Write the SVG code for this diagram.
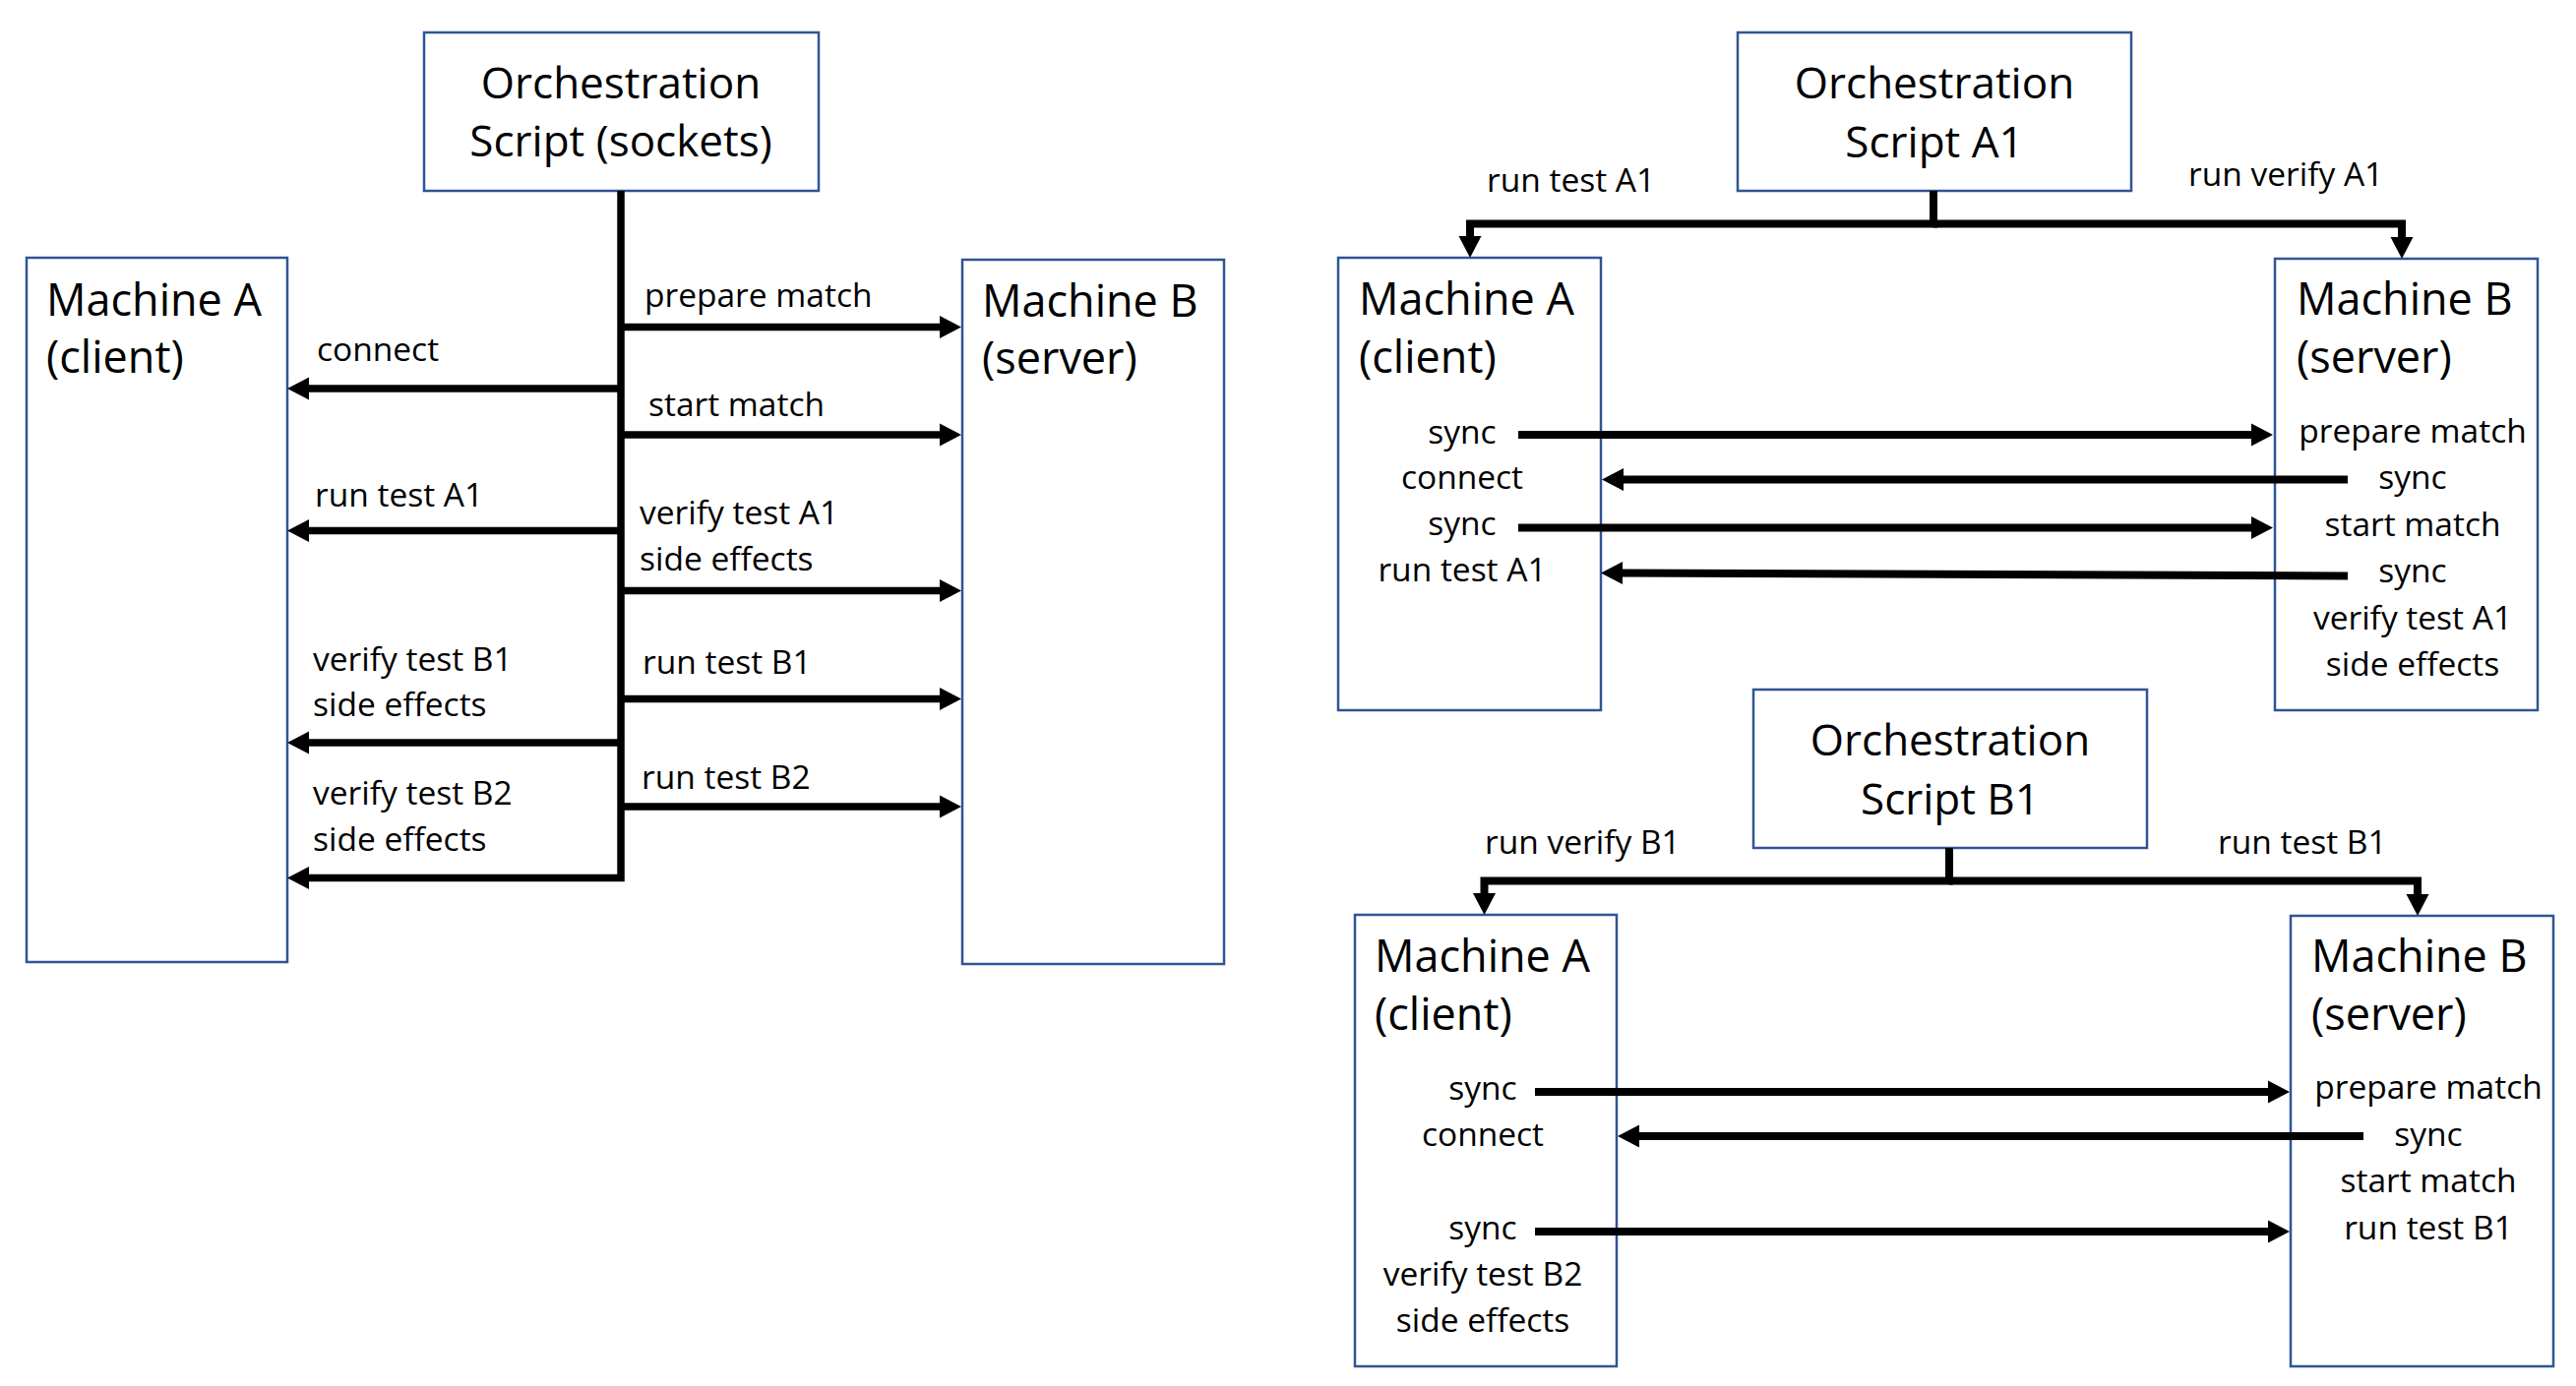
<svg xmlns="http://www.w3.org/2000/svg" width="2618" height="1409" viewBox="0 0 2618 1409">
  <style>
    .box { fill: #ffffff; stroke: #2F5496; stroke-width: 2.5; }
    .big { font-family: "Open Sans", "Noto Sans", "DejaVu Sans", sans-serif; font-size: 45px; fill: #000; }
    .orch { font-family: "Open Sans", "Noto Sans", "DejaVu Sans", sans-serif; font-size: 44px; fill: #000; text-anchor: middle; }
    .lbl { font-family: "Open Sans", "Noto Sans", "DejaVu Sans", sans-serif; font-size: 33.5px; fill: #000; }
    .mid { text-anchor: middle; }
    .wire { fill: none; stroke: #000; stroke-width: 7.5; stroke-linejoin: miter; stroke-linecap: butt; }
    .wire2 { fill: none; stroke: #000; stroke-width: 8; stroke-linejoin: miter; stroke-linecap: butt; }
  </style>
  <defs>
    <marker id="ah" markerUnits="userSpaceOnUse" markerWidth="24" markerHeight="24" refX="2" refY="11.5" orient="auto" overflow="visible">
      <path d="M0,0 L22,11.5 L0,23 Z" fill="#000"/>
    </marker>
  </defs>
  <rect x="0" y="0" width="2618" height="1409" fill="#ffffff"/>

  <!-- ===== Left diagram (sockets) ===== -->
  <g id="orch-sockets">
    <rect class="box" x="431" y="33" width="401" height="161"/>
    <text class="orch" x="631" y="100">Orchestration</text>
    <text class="orch" x="631" y="159">Script (sockets)</text>
  </g>
  <g id="machineA-sockets">
    <rect class="box" x="27" y="262" width="265" height="716"/>
    <text class="big" x="47" y="321">Machine A</text>
    <text class="big" x="47" y="379">(client)</text>
  </g>
  <g id="machineB-sockets">
    <rect class="box" x="978" y="264" width="266" height="716"/>
    <text class="big" x="998" y="322">Machine B</text>
    <text class="big" x="998" y="380">(server)</text>
  </g>

  <g id="connectors-sockets">
    <path class="wire" d="M631,194 V892.5 H312" marker-end="url(#ah)"/>
    <path class="wire" d="M631,332.5 H957" marker-end="url(#ah)"/>
    <path class="wire" d="M631,395 H312" marker-end="url(#ah)"/>
    <path class="wire" d="M631,442 H957" marker-end="url(#ah)"/>
    <path class="wire" d="M631,539.5 H312" marker-end="url(#ah)"/>
    <path class="wire" d="M631,600.5 H957" marker-end="url(#ah)"/>
    <path class="wire" d="M631,710.5 H957" marker-end="url(#ah)"/>
    <path class="wire" d="M631,755 H312" marker-end="url(#ah)"/>
    <path class="wire" d="M631,820 H957" marker-end="url(#ah)"/>
    <text class="lbl" x="655" y="312">prepare match</text>
    <text class="lbl" x="322" y="367">connect</text>
    <text class="lbl" x="659" y="423">start match</text>
    <text class="lbl" x="320" y="515">run test A1</text>
    <text class="lbl" x="650" y="533">verify test A1</text>
    <text class="lbl" x="650" y="580">side effects</text>
    <text class="lbl" x="318" y="682">verify test B1</text>
    <text class="lbl" x="318" y="728">side effects</text>
    <text class="lbl" x="653" y="685">run test B1</text>
    <text class="lbl" x="318" y="818">verify test B2</text>
    <text class="lbl" x="318" y="865">side effects</text>
    <text class="lbl" x="652" y="802">run test B2</text>
  </g>

  <!-- ===== Top-right diagram (Script A1) ===== -->
  <g id="orch-A1">
    <rect class="box" x="1766" y="33" width="400" height="161"/>
    <text class="orch" x="1966" y="100">Orchestration</text>
    <text class="orch" x="1966" y="160">Script A1</text>
  </g>
  <g id="machineA-A1">
    <rect class="box" x="1360" y="262" width="267" height="460"/>
    <text class="big" x="1381" y="320">Machine A</text>
    <text class="big" x="1381" y="379">(client)</text>
    <text class="lbl mid" x="1486" y="451">sync</text>
    <text class="lbl mid" x="1486" y="497">connect</text>
    <text class="lbl mid" x="1486" y="544">sync</text>
    <text class="lbl mid" x="1486" y="591">run test A1</text>
  </g>
  <g id="machineB-A1">
    <rect class="box" x="2312" y="263" width="267" height="459"/>
    <text class="big" x="2334" y="320">Machine B</text>
    <text class="big" x="2334" y="379">(server)</text>
    <text class="lbl mid" x="2452" y="450">prepare match</text>
    <text class="lbl mid" x="2452" y="497">sync</text>
    <text class="lbl mid" x="2452" y="545">start match</text>
    <text class="lbl mid" x="2452" y="592">sync</text>
    <text class="lbl mid" x="2452" y="640">verify test A1</text>
    <text class="lbl mid" x="2452" y="687">side effects</text>
  </g>
  <g id="connectors-A1">
    <path class="wire2" d="M1965,194 V227.5 H1494 V242" marker-end="url(#ah)"/>
    <path class="wire2" d="M1965,227.5 H2441 V243" marker-end="url(#ah)"/>
    <path class="wire2" d="M1543,442 H2290" marker-end="url(#ah)"/>
    <path class="wire2" d="M2386,487.5 H1648" marker-end="url(#ah)"/>
    <path class="wire2" d="M1543,536.5 H2290" marker-end="url(#ah)"/>
    <path class="wire2" d="M2386,585.5 L1647,582.5" marker-end="url(#ah)"/>
    <text class="lbl" x="1511" y="195">run test A1</text>
    <text class="lbl" x="2224" y="189">run verify A1</text>
  </g>

  <!-- ===== Bottom-right diagram (Script B1) ===== -->
  <g id="orch-B1">
    <rect class="box" x="1782" y="701" width="400" height="161"/>
    <text class="orch" x="1982" y="768">Orchestration</text>
    <text class="orch" x="1982" y="828">Script B1</text>
  </g>
  <g id="machineA-B1">
    <rect class="box" x="1377" y="930" width="266" height="459"/>
    <text class="big" x="1397" y="988">Machine A</text>
    <text class="big" x="1397" y="1047">(client)</text>
    <text class="lbl mid" x="1507" y="1118">sync</text>
    <text class="lbl mid" x="1507" y="1165">connect</text>
    <text class="lbl mid" x="1507" y="1260">sync</text>
    <text class="lbl mid" x="1507" y="1307">verify test B2</text>
    <text class="lbl mid" x="1507" y="1354">side effects</text>
  </g>
  <g id="machineB-B1">
    <rect class="box" x="2328" y="931" width="267" height="458"/>
    <text class="big" x="2349" y="988">Machine B</text>
    <text class="big" x="2349" y="1047">(server)</text>
    <text class="lbl mid" x="2468" y="1117">prepare match</text>
    <text class="lbl mid" x="2468" y="1165">sync</text>
    <text class="lbl mid" x="2468" y="1212">start match</text>
    <text class="lbl mid" x="2468" y="1260">run test B1</text>
  </g>
  <g id="connectors-B1">
    <path class="wire2" d="M1981,862 V895.5 H1508.5 V910" marker-end="url(#ah)"/>
    <path class="wire2" d="M1981,895.5 H2457 V911" marker-end="url(#ah)"/>
    <path class="wire2" d="M1560,1110 H2307" marker-end="url(#ah)"/>
    <path class="wire2" d="M2402,1155 H1664" marker-end="url(#ah)"/>
    <path class="wire2" d="M1560,1252 H2307" marker-end="url(#ah)"/>
    <text class="lbl" x="1509" y="868">run verify B1</text>
    <text class="lbl" x="2254" y="868">run test B1</text>
  </g>
</svg>
